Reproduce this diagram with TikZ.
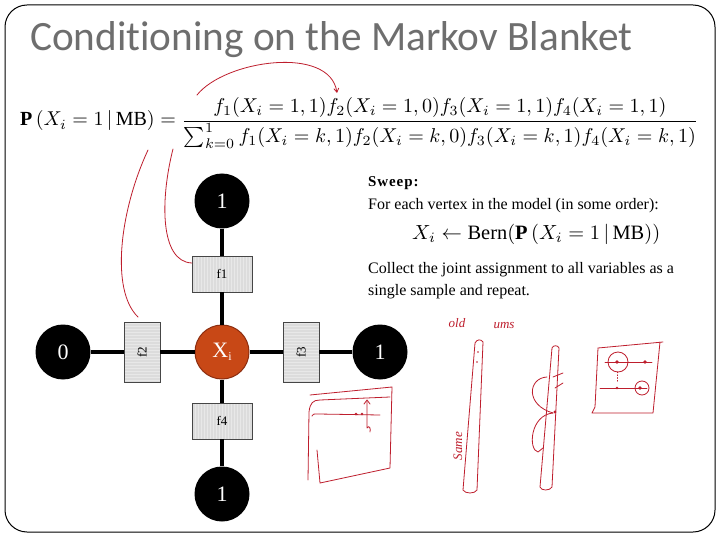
\documentclass[tikz,border=0pt]{standalone}
\usepackage{fontspec}
\setmainfont{Liberation Serif}
\newfontfamily\titlefont[Ligatures=NoCommon]{Carlito}
\newfontfamily\sweepfont[LetterSpace=6]{Liberation Serif}
\usepackage{amsmath}
\usepackage{graphicx}
\usetikzlibrary{patterns,arrows.meta}
\definecolor{hand}{RGB}{190,30,45}
\definecolor{xorange}{RGB}{200,72,22}
\definecolor{xborder}{RGB}{140,45,15}
\definecolor{titlegray}{RGB}{110,110,110}
\definecolor{boxfill}{RGB}{220,220,220}
\definecolor{boxstripe}{RGB}{232,232,232}
\definecolor{boxline}{RGB}{70,70,70}
\begin{document}
\begin{tikzpicture}[x=1pt,y=-1pt,
  valnode/.style={circle,fill=black,minimum size=55pt,inner sep=0pt,text=white,font=\fontsize{22}{22}\selectfont},
  xnode/.style={circle,fill=xorange,draw=xborder,line width=1pt,minimum size=54pt,inner sep=0pt,text=white,font=\fontsize{22}{22}\selectfont},
  hfactor/.style={rectangle,draw=boxline,line width=0.8pt,preaction={fill=boxfill},pattern=vertical lines,pattern color=boxstripe,minimum width=60pt,minimum height=36pt,inner sep=0pt,font=\fontsize{13}{13}\selectfont},
  vfactor/.style={rectangle,draw=boxline,line width=0.8pt,preaction={fill=boxfill},pattern=horizontal lines,pattern color=boxstripe,minimum width=36pt,minimum height=60pt,inner sep=0pt,font=\fontsize{13}{13}\selectfont},
  link/.style={line width=4pt,black},
  ink/.style={hand,line width=0.8pt,line cap=round,line join=round},
  txt/.style={anchor=base west,inner sep=0pt,font=\fontsize{16}{16}\selectfont},
  handtxt/.style={text=hand,inner sep=0pt,font=\itshape\fontsize{13}{13}\selectfont},
]
\useasboundingbox (0,0) rectangle (720,540);
\fill[white] (0,0) rectangle (720,540);
% frame
\draw[line width=1pt,rounded corners=22pt] (5,5) rectangle (715,532);
% title
\node[anchor=base west,inner sep=0pt,text=titlegray] (title) at (30,51) {\resizebox{602pt}{29pt}{\titlefont Conditioning on the Markov Blanket}};
% equation
\node[anchor=base west,inner sep=0pt] (eq) at (20,126) {\resizebox{678pt}{!}{$\displaystyle \mathbf{P}\,(X_i = 1\,|\,\mathrm{MB}) = \frac{f_1(X_i=1,1)f_2(X_i=1,0)f_3(X_i=1,1)f_4(X_i=1,1)}{\sum_{k=0}^{1} f_1(X_i=k,1)f_2(X_i=k,0)f_3(X_i=k,1)f_4(X_i=k,1)}$}};
% graph
\node[valnode] (top) at (222,201) {1};
\node[hfactor] (f1) at (222,274) {f1};
\node[xnode] (xi) at (222,352) {X\raisebox{-0.35ex}{\fontsize{12}{12}\selectfont i}};
\node[hfactor] (f4) at (222,421) {f4};
\node[valnode] (bot) at (222,494) {1};
\node[valnode] (zero) at (63,352) {0};
\node[vfactor] (f2) at (142,352) {\rotatebox{90}{f2}};
\node[vfactor] (f3) at (301,352) {\rotatebox{90}{f3}};
\node[valnode] (right) at (380,352) {1};
\draw[link] (top) -- (f1);
\draw[link] (f1) -- (xi);
\draw[link] (xi) -- (f4);
\draw[link] (f4) -- (bot);
\draw[link] (zero) -- (f2);
\draw[link] (f2) -- (xi);
\draw[link] (xi) -- (f3);
\draw[link] (f3) -- (right);
% right text
\node[txt,font=\sweepfont\bfseries\fontsize{15}{15}\selectfont] (sweep) at (368,187) {Sweep:};
\node[txt] (each) at (368,210) {For each vertex in the model (in some order):};
\node[anchor=base west,inner sep=0pt] (bern) at (412,239) {\resizebox{248pt}{!}{$X_i \leftarrow \mathrm{Bern}(\mathbf{P}\,(X_i = 1\,|\,\mathrm{MB}))$}};
\node[txt] (collect) at (368,273) {Collect the joint assignment to all variables as a};
\node[txt] (single) at (368,295) {single sample and repeat.};
% hand annotations: arcs
\draw[ink,-{Straight Barb[length=4pt,width=5pt]}] (197,95) .. controls (225,60) and (330,45) .. (337,93);
\draw[ink] (148,150) .. controls (120,210) and (110,290) .. (138,317);
\draw[ink] (173,149) .. controls (160,200) and (160,262) .. (192,263);
% drawing A
\draw[ink] (310,395) -- (392,387) -- (390,468) -- (320,483) -- (317,450);
\draw[ink] (308,480) -- (309,412) .. controls (310,403) and (313,400) .. (320,400) -- (390,397);
\draw[ink] (312,416) .. controls (313,414) .. (318,414) -- (380,415);
\draw[ink] (367,401) -- (367,428) .. controls (369,425) and (371,428) .. (370,432);
\draw[ink] (364,404) -- (367,400) -- (370,404);
\fill[hand] (356,414) circle (1.3pt) (362,414) circle (1.3pt);
% drawing B
\draw[ink] (475,343) -- (463,490) .. controls (465,494) and (475,494) .. (477,490) -- (483,342) .. controls (481,339) and (477,339) .. (475,343);
\fill[hand] (478,352) circle (0.8pt) (477,362) circle (0.8pt);
\node[handtxt] (oldtxt) at (457,323) {old};
\node[handtxt] (umstxt) at (504,326) {ums};
\node[handtxt,rotate=90] (sametxt) at (458,446) {Same};
% drawing C
\draw[ink] (552,348) -- (540,487) .. controls (541,491) and (550,491) .. (552,487) -- (559,348) .. controls (558,345) and (553,345) .. (552,348);
\draw[ink] (547,377) .. controls (528,378) and (525,405) .. (553,413);
\draw[ink] (553,413) .. controls (530,415) and (528,450) .. (538,452) -- (543,448);
\draw[ink] (553,377) -- (563,373);
\draw[ink] (555,388) -- (563,383);
\fill[hand] (555,412) circle (1.6pt);
% drawing D
\draw[ink] (598,348) -- (663,342);
\draw[ink] (660,342) -- (653,413) -- (592,413) -- (595,407) -- (598,348);
\draw[ink] (605,362) -- (652,362);
\draw[ink] (600,388) -- (647,388);
\draw[ink] (618,362) circle (10pt);
\draw[ink] (642,388) circle (7pt);
\fill[hand] (617,362) circle (1.8pt) (645,362) circle (1.8pt) (617,388) circle (1.3pt) (640,388) circle (1.8pt);
\draw[ink,dotted] (617,372) -- (617,382);
\end{tikzpicture}
\end{document}
